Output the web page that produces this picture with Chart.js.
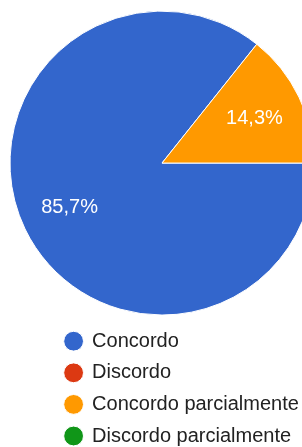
<!DOCTYPE html>
<html>
<head>
<meta charset="utf-8">
<script src="https://cdn.jsdelivr.net/npm/chart.js@4"></script>
<style>
  html, body { margin: 0; padding: 0; overflow: hidden; background: #fff; }
</style>
</head>
<body>
<canvas id="pie" width="302" height="456"></canvas>
<script>
// answers and counts
const categories = ['Concordo', 'Discordo', 'Concordo parcialmente', 'Discordo parcialmente'];
const counts = [6, 0, 1, 0];
const colors = ['#3366cc', '#dc3912', '#ff9900', '#109618'];

const FONT = '"Liberation Sans", Arial, sans-serif';
const PIE_CENTER_X = 162;

// legend is indented, but the pie is not: move the chart area back
const recenter = {
    id: 'recenter',
    afterLayout(chart) {
        const area = chart.chartArea;
        area.left = 2 * PIE_CENTER_X - area.right;
        area.width = area.right - area.left;
    }
};

// percent labels inside the slices
const sliceLabels = {
    id: 'sliceLabels',
    afterDatasetsDraw(chart) {
        const ctx = chart.ctx;
        const meta = chart.getDatasetMeta(0);
        const total = counts.reduce((a, b) => a + b, 0);
        ctx.save();
        ctx.fillStyle = '#ffffff';
        ctx.font = '20px ' + FONT;
        ctx.textAlign = 'center';
        ctx.textBaseline = 'middle';
        meta.data.forEach((arc, i) => {
            if (!counts[i]) return;
            const p = arc.getProps(['x', 'y', 'startAngle', 'endAngle', 'outerRadius'], true);
            const mid = (p.startAngle + p.endAngle) / 2;
            const r = p.outerRadius * 0.675;
            const txt = (counts[i] / total * 100).toFixed(1).replace('.', ',') + '%';
            ctx.fillText(txt, p.x + Math.cos(mid) * r, p.y + Math.sin(mid) * r);
        });
        ctx.restore();
    }
};

const chart = new Chart(document.getElementById('pie'), {
    type: 'pie',
    data: {
        labels: categories,
        datasets: [{
            data: counts,
            backgroundColor: colors,
            borderColor: '#ffffff',
            borderWidth: 1,
            radius: 152
        }]
    },
    options: {
        responsive: false,
        animation: false,
        rotation: 90,
        layout: {
            padding: { left: 53.5, right: 0, top: 6.5, bottom: 0 }
        },
        plugins: {
            tooltip: { enabled: false },
            legend: {
                position: 'bottom',
                align: 'start',
                labels: {
                    usePointStyle: true,
                    pointStyle: 'circle',
                    boxWidth: 17,
                    boxHeight: 14,
                    padding: 11.6,
                    color: '#222222',
                    font: { family: FONT, size: 20 }
                }
            }
        }
    },
    plugins: [recenter, sliceLabels]
});
</script>
</body>
</html>
